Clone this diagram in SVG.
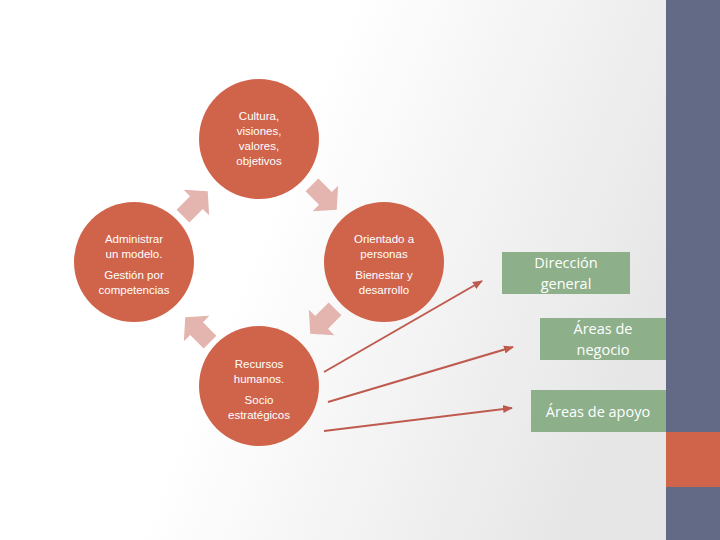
<svg xmlns="http://www.w3.org/2000/svg" xmlns:xlink="http://www.w3.org/1999/xlink" width="720" height="540" viewBox="0 0 720 540">
<defs>
<linearGradient id="bg" x1="0" y1="0" x2="1" y2="0.3"><stop offset="0.45" stop-color="#ffffff"/><stop offset="1" stop-color="#e6e6e6"/></linearGradient>
<polygon id="blk" points="-17,-9 2,-9 2,-18 18,0 2,18 2,9 -17,9" fill="#E4B4AE"/>
<marker id="ah" viewBox="0 0 10 10" refX="9" refY="5" markerWidth="5" markerHeight="5" orient="auto"><path d="M0,1 L10,5 L0,9 z" fill="#BE5B4E"/></marker>
</defs>
<style>
.c{fill:#D0644A}
.ct{font-family:"Liberation Sans",sans-serif;font-size:11.5px;fill:#fff;text-anchor:middle}
.g{fill:#8DAF8A}
.gt{font-family:"Open Sans","Liberation Sans",sans-serif;font-size:14.5px;fill:#fff;text-anchor:middle}
.ln{stroke:#BE5B4E;stroke-width:2;fill:none;marker-end:url(#ah)}
</style>
<rect width="720" height="540" fill="url(#bg)"/>
<rect x="666" y="0" width="54" height="540" fill="#636A86"/>
<rect x="666" y="432" width="54" height="55" fill="#D0644A"/>
<g id="arrows">
<use xlink:href="#blk" transform="translate(195,204) rotate(-45)"/>
<use xlink:href="#blk" transform="translate(324,197) rotate(45)"/>
<use xlink:href="#blk" transform="translate(323,321) rotate(135)"/>
<use xlink:href="#blk" transform="translate(198,330) rotate(-135)"/>
</g>
<g id="n-top"><circle class="c" cx="259" cy="139" r="60"/>
<text class="ct" x="259" y="120">Cultura,</text><text class="ct" x="259" y="135">visiones,</text><text class="ct" x="259" y="150">valores,</text><text class="ct" x="259" y="165">objetivos</text></g>
<g id="n-left"><circle class="c" cx="134" cy="262" r="60"/>
<text class="ct" x="134" y="243">Administrar</text><text class="ct" x="134" y="258">un modelo.</text><text class="ct" x="134" y="279">Gestión por</text><text class="ct" x="134" y="294">competencias</text></g>
<g id="n-right"><circle class="c" cx="384" cy="262" r="60"/>
<text class="ct" x="384" y="243">Orientado a</text><text class="ct" x="384" y="258">personas</text><text class="ct" x="384" y="279">Bienestar y</text><text class="ct" x="384" y="294">desarrollo</text></g>
<g id="n-bottom"><circle class="c" cx="259" cy="386" r="60"/>
<text class="ct" x="259" y="368">Recursos</text><text class="ct" x="259" y="383">humanos.</text><text class="ct" x="259" y="404">Socio</text><text class="ct" x="259" y="419">estratégicos</text></g>
<g id="connectors">
<line class="ln" x1="324" y1="372" x2="482" y2="281"/>
<line class="ln" x1="328" y1="402" x2="513" y2="347"/>
<line class="ln" x1="324" y1="431" x2="512" y2="408"/>
</g>
<g id="b1"><rect class="g" x="502" y="252" width="128" height="42"/><text class="gt" x="566" y="268">Dirección</text><text class="gt" x="566" y="289">general</text></g>
<g id="b2"><rect class="g" x="540" y="318" width="126" height="42"/><text class="gt" x="603" y="334">Áreas de</text><text class="gt" x="603" y="355">negocio</text></g>
<g id="b3"><rect class="g" x="531" y="390" width="135" height="42"/><text class="gt" x="598" y="417">Áreas de apoyo</text></g>
</svg>
